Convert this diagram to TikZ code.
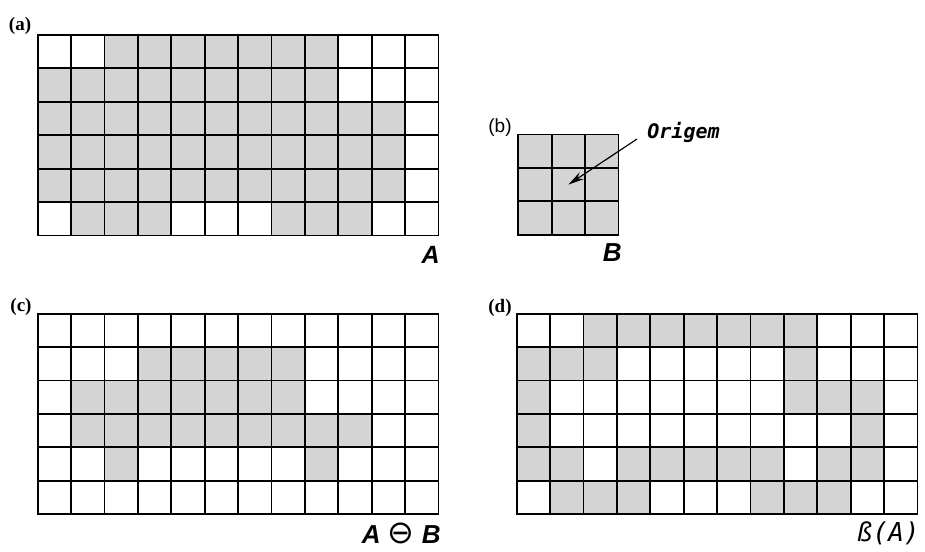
\documentclass[tikz,border=0pt]{standalone}
\usepackage{fontspec}
\setmainfont{Liberation Serif}
\setsansfont{Liberation Sans}
\setmonofont{DejaVu Sans Mono}
\newfontfamily\symfont{DejaVu Sans}
\usepackage{tikz}
\usetikzlibrary{arrows.meta}
\definecolor{cellgray}{RGB}{212,212,212}

\begin{document}
\begin{tikzpicture}[
    x=0.5pt, y=-0.5pt,
    cellfill/.style={fill=cellgray},
    cellline/.style={draw=black, line width=0.9pt},
    panel/.style={font=\fontsize{9.5}{11}\selectfont\bfseries, inner sep=0pt, anchor=base},
    setname/.style={font=\fontsize{12.5}{14}\selectfont\sffamily\bfseries\itshape, inner sep=0pt, anchor=base east},
    monolabel/.style={font=\fontsize{10}{12}\selectfont\ttfamily\bfseries\itshape, inner sep=0pt},
    pointer/.style={-{Stealth[length=8pt, width=4pt]}, line width=0.6pt}
]
    \useasboundingbox (0,0) rectangle (925,551);

    % ===============================
    % 1. SET A
    % ===============================
    \begin{scope}[shift={(37.7,35)}, x=16.7pt, y=-16.7pt]
        \foreach \r/\cl in {0/{2,...,8}, 1/{0,...,8}, 2/{0,...,10}, 3/{0,...,10}, 4/{0,...,10}, 5/{1,2,3,7,8,9}}
            \foreach \c in \cl
                \fill[cellfill] (\c,\r) rectangle ++(1,1);
        \foreach \c in {0,...,11}
            \foreach \r in {0,...,5}
                \draw[cellline] (\c,\r) rectangle ++(1,1);
    \end{scope}
    \node[panel] (lbla) at (20,31) {(a)};
    \node[setname] (namea) at (440,263) {A};

    % ===============================
    % 2. STRUCTURING ELEMENT B
    % ===============================
    \begin{scope}[shift={(518.3,134.5)}, x=16.7pt, y=-16.7pt]
        \foreach \c in {0,1,2}
            \foreach \r in {0,1,2}
                \draw[cellline, cellfill] (\c,\r) rectangle ++(1,1);
        \coordinate (bmid) at (1.5,1.5);
    \end{scope}
    \node[panel, font=\fontsize{9.5}{11}\selectfont\sffamily] (lblb) at (500,133) {(b)};
    \node[setname, font=\fontsize{13}{15}\selectfont\sffamily\bfseries\itshape] (nameb) at (622,261) {B};

    % Origin pointer
    \node[monolabel, anchor=base west] (origem) at (647,138) {Origem};
    \draw[pointer] ([shift={(-5pt,-0.5pt)}]origem.base west) -- (bmid);

    % ===============================
    % 3. EROSION A - B
    % ===============================
    \begin{scope}[shift={(37.7,313.7)}, x=16.7pt, y=-16.7pt]
        \foreach \r/\cl in {1/{3,...,7}, 2/{1,...,7}, 3/{1,...,9}, 4/{2,8}}
            \foreach \c in \cl
                \fill[cellfill] (\c,\r) rectangle ++(1,1);
        \foreach \c in {0,...,11}
            \foreach \r in {0,...,5}
                \draw[cellline] (\c,\r) rectangle ++(1,1);
    \end{scope}
    \node[panel] (lblc) at (21,311) {(c)};
    \node[setname, font=\fontsize{13}{15}\selectfont\sffamily\bfseries\itshape] (namec) at (441,543) {A {\symfont\upshape\mdseries\fontsize{16}{16}\selectfont ⊖} B};

    % ===============================
    % 4. BOUNDARY OF A
    % ===============================
    \begin{scope}[shift={(516.7,313.7)}, x=16.7pt, y=-16.7pt]
        \foreach \r/\cl in {0/{2,...,8}, 1/{0,1,2,8}, 2/{0,8,9,10}, 3/{0,10}, 4/{0,1,3,4,5,6,7,9,10}, 5/{1,2,3,7,8,9}}
            \foreach \c in \cl
                \fill[cellfill] (\c,\r) rectangle ++(1,1);
        \foreach \c in {0,...,11}
            \foreach \r in {0,...,5}
                \draw[cellline] (\c,\r) rectangle ++(1,1);
    \end{scope}
    \node[panel] (lbld) at (500,312) {(d)};
    \node[monolabel, font=\fontsize{13}{15}\selectfont\ttfamily\itshape, anchor=base east] (named) at (920,541) {ß(A)};

\end{tikzpicture}
\end{document}
